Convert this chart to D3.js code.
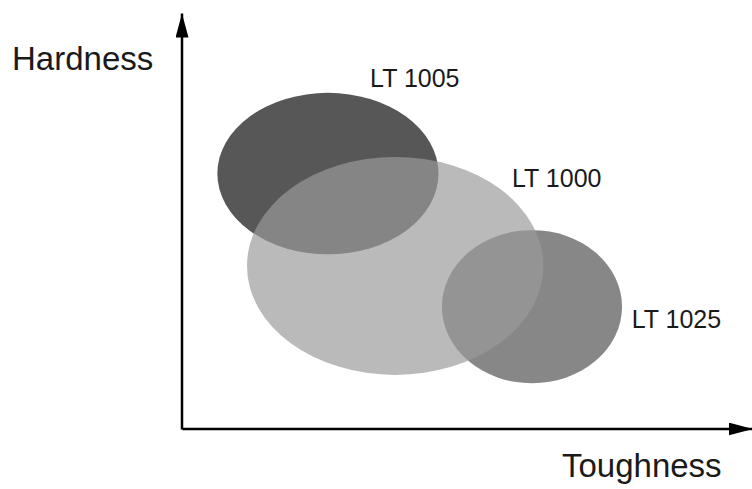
<!DOCTYPE html>
<html>
<head>
<meta charset="utf-8">
<script src="https://cdn.jsdelivr.net/npm/d3@7"></script>
<style>
  body { margin: 0; background: #fff; }
  text { font-family: "Liberation Sans", Arial, sans-serif; fill: #1a1a1a; }
  .axisTitle { font-size: 33px; }
  .gradeLabel { font-size: 25px; }
</style>
</head>
<body>
<div id="chart"></div>
<script>
// Grades and their hardness / toughness ranges (relative units 0-100)
var grades = ["LT 1005", "LT 1025", "LT 1000"];   // draw order
var toughCenter = [25.6, 61.4, 37.4];
var toughSpread = [19.4, 15.8, 26.0];
var hardCenter = [61.4, 29.4, 39.2];
var hardSpread = [19.4, 18.4, 26.2];
var labelTough = [33.0, 78.9, 57.9];
var labelHard = [82.2, 24.3, 58.2];

var fills = ["#575757", "#878787", "#9a9a9a"];
var opacities = [1, 1, 0.685];

var svgWidth = 752;
var svgHeight = 489;

var svg = d3.select("#chart")
  .append("svg")
  .attr("width", svgWidth)
  .attr("height", svgHeight);

// Scales (axis ends at the arrow tips)
var xScale = d3.scaleLinear().domain([0, 100]).range([182, 752]);
var yScale = d3.scaleLinear().domain([0, 100]).range([429, 13]);

var data = grades.map(function(g, i) {
  return {
    name: g,
    cx: toughCenter[i], rx: toughSpread[i],
    cy: hardCenter[i], ry: hardSpread[i],
    lx: labelTough[i], ly: labelHard[i],
    fill: fills[i], opacity: opacities[i]
  };
});

// Ellipses
svg.selectAll("ellipse")
  .data(data)
  .enter()
  .append("ellipse")
  .attr("cx", d => xScale(d.cx))
  .attr("cy", d => yScale(d.cy))
  .attr("rx", d => xScale(d.rx) - xScale(0))
  .attr("ry", d => yScale(0) - yScale(d.ry))
  .attr("fill", d => d.fill)
  .attr("fill-opacity", d => d.opacity);

// Arrow head
svg.append("defs").append("marker")
  .attr("id", "arrow")
  .attr("viewBox", "0 0 24 13")
  .attr("refX", 24)
  .attr("refY", 6.5)
  .attr("markerWidth", 24)
  .attr("markerHeight", 13)
  .attr("markerUnits", "userSpaceOnUse")
  .attr("orient", "auto")
  .append("path")
  .attr("d", "M0,0L24,6.5L0,13Z")
  .attr("fill", "#000");

// Axes without ticks
var bottomAxis = d3.axisBottom(xScale).ticks(0).tickSizeOuter(0);
var leftAxis = d3.axisLeft(yScale).ticks(0).tickSizeOuter(0);

var xAxis = svg.append("g")
  .attr("transform", `translate(0, ${yScale(0) - 0.5})`)
  .call(bottomAxis);

var yAxis = svg.append("g")
  .attr("transform", `translate(${xScale(0) - 0.5}, 0)`)
  .call(leftAxis);

[xAxis, yAxis].forEach(function(a) {
  a.select(".domain")
    .attr("stroke", "#000")
    .attr("stroke-width", 2.5)
    .attr("marker-end", "url(#arrow)");
});

// Labels
svg.selectAll(".gradeLabel")
  .data(data)
  .enter()
  .append("text")
  .attr("class", "gradeLabel")
  .attr("x", d => xScale(d.lx))
  .attr("y", d => yScale(d.ly))
  .text(d => d.name);

svg.append("text")
  .attr("class", "axisTitle")
  .attr("x", 12)
  .attr("y", 70)
  .text("Hardness");

svg.append("text")
  .attr("class", "axisTitle")
  .attr("x", 562)
  .attr("y", 477)
  .text("Toughness");
</script>
</body>
</html>
